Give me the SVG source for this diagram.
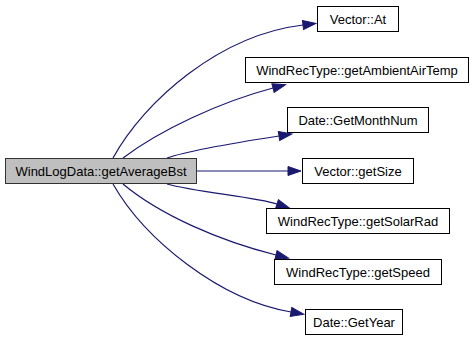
<svg xmlns="http://www.w3.org/2000/svg" width="476" height="341" viewBox="0 0 476 341">
  <style>
    .node rect { fill: #ffffff; stroke: #000000; stroke-width: 1; }
    .node.current rect { fill: #bfbfbf; stroke: #333333; }
    .node text { font-family: "Liberation Sans", Arial, sans-serif; font-size: 13px; fill: #000000; text-anchor: middle; }
    .edges path { fill: none; stroke: #191970; stroke-width: 1.2; marker-end: url(#arrow); }
  </style>
  <defs>
    <marker id="arrow" markerUnits="userSpaceOnUse" markerWidth="16" markerHeight="12" refX="1" refY="6" orient="auto" overflow="visible">
      <path d="M1,1.5 L14,6 L1,10.5 Z" fill="#191970" stroke="#191970" stroke-width="1"/>
    </marker>
  </defs>

  <!-- calls from getAverageBst -->
  <g id="edges" class="edges">
    <path d="M113,158 C145,100 220,35 303,25"/>
    <path d="M123,158 C160,130 220,102 273,88"/>
    <path d="M167,158 C190,150 240,142 279,136"/>
    <path d="M197,171 L288,171"/>
    <path d="M167,184 C195,192 255,197 277,204"/>
    <path d="M123,184 C160,215 220,241 276,255"/>
    <path d="M113,184 C145,240 220,300 291,312"/>
  </g>

  <g id="node-getAverageBst" class="node current">
    <rect x="5.5" y="158.5" width="191" height="25"/>
    <text x="101" y="175.5">WindLogData::getAverageBst</text>
  </g>
  <g id="node-Vector-At" class="node">
    <rect x="317.5" y="6.5" width="81" height="25"/>
    <text x="358" y="23.5">Vector::At</text>
  </g>
  <g id="node-getAmbientAirTemp" class="node">
    <rect x="245.5" y="57.5" width="223" height="25"/>
    <text x="357" y="74.5">WindRecType::getAmbientAirTemp</text>
  </g>
  <g id="node-GetMonthNum" class="node">
    <rect x="287.5" y="107.5" width="141" height="25"/>
    <text x="358" y="124.5">Date::GetMonthNum</text>
  </g>
  <g id="node-getSize" class="node">
    <rect x="302.5" y="158.5" width="111" height="25"/>
    <text x="358" y="175.5">Vector::getSize</text>
  </g>
  <g id="node-getSolarRad" class="node">
    <rect x="266.5" y="208.5" width="183" height="25"/>
    <text x="358" y="225.5">WindRecType::getSolarRad</text>
  </g>
  <g id="node-getSpeed" class="node">
    <rect x="274.5" y="259.5" width="167" height="25"/>
    <text x="358" y="276.5">WindRecType::getSpeed</text>
  </g>
  <g id="node-GetYear" class="node">
    <rect x="305.5" y="309.5" width="97" height="25"/>
    <text x="354" y="326.5">Date::GetYear</text>
  </g>
</svg>
